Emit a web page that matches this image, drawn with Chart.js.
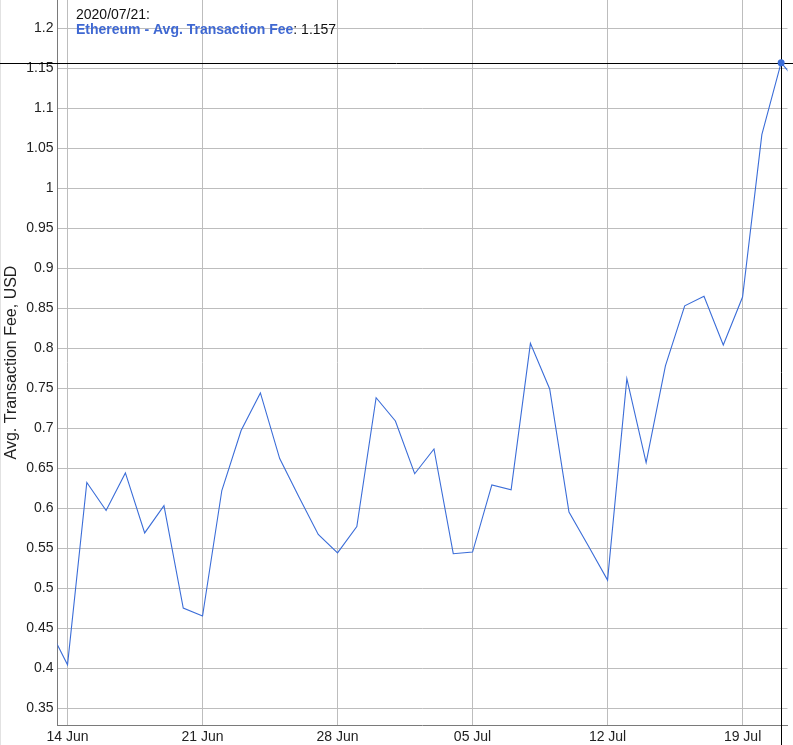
<!DOCTYPE html>
<html>
<head>
<meta charset="utf-8">
<script src="https://cdn.jsdelivr.net/npm/chart.js@4.4.1/dist/chart.umd.min.js"></script>
<style>
  html, body { margin: 0; padding: 0; background: #fff; }
  #wrap { width: 793px; height: 745px; }
</style>
</head>
<body>
<div id="wrap"><canvas id="c" width="793" height="745"></canvas></div>
<script>
// ---- data ----
const dates = [
  '2020-06-13','2020-06-14','2020-06-15','2020-06-16','2020-06-17','2020-06-18','2020-06-19','2020-06-20',
  '2020-06-21','2020-06-22','2020-06-23','2020-06-24','2020-06-25','2020-06-26','2020-06-27','2020-06-28',
  '2020-06-29','2020-06-30','2020-07-01','2020-07-02','2020-07-03','2020-07-04','2020-07-05','2020-07-06',
  '2020-07-07','2020-07-08','2020-07-09','2020-07-10','2020-07-11','2020-07-12','2020-07-13','2020-07-14',
  '2020-07-15','2020-07-16','2020-07-17','2020-07-18','2020-07-19','2020-07-20','2020-07-21','2020-07-22'
];
const fees = [
  0.452, 0.404, 0.632, 0.597, 0.644, 0.569, 0.603, 0.475,
  0.465, 0.622, 0.697, 0.744, 0.662, 0.614, 0.567, 0.544,
  0.577, 0.738, 0.709, 0.643, 0.674, 0.543, 0.545, 0.629,
  0.623, 0.806, 0.749, 0.595, 0.553, 0.510, 0.762, 0.657,
  0.778, 0.853, 0.865, 0.804, 0.864, 1.067, 1.157, 1.128
];
const seriesName = 'Ethereum - Avg. Transaction Fee';
const yAxisTitle = 'Avg. Transaction Fee, USD';
const xTickDates = ['2020-06-14','2020-06-21','2020-06-28','2020-07-05','2020-07-12','2020-07-19'];
const xTickLabels = ['14 Jun','21 Jun','28 Jun','05 Jul','12 Jul','19 Jul'];
const yTickValues = [0.35,0.4,0.45,0.5,0.55,0.6,0.65,0.7,0.75,0.8,0.85,0.9,0.95,1,1.05,1.1,1.15,1.2];
const highlightDate = '2020-07-21';
const highlightLabel = '2020/07/21:';

// ---- helpers ----
const DAY = 86400000;
const baseDate = Date.UTC(2020, 5, 14);
const dayNum = s => { const p = s.split('-').map(Number); return (Date.UTC(p[0], p[1]-1, p[2]) - baseDate) / DAY; };
const points = dates.map((d, i) => ({ x: dayNum(d), y: fees[i] }));
const xTickVals = xTickDates.map(dayNum);
const hiIndex = dates.indexOf(highlightDate);

const LINE = '#3b6dd8';
const TEXTBLUE = '#3f68d2';
Chart.defaults.font.family = '"Liberation Sans", Arial, sans-serif';
Chart.defaults.font.size = 14;
Chart.defaults.color = '#222';

const crosshair = {
  id: 'crosshair',
  beforeDatasetsDraw(chart) {
    const ctx = chart.ctx;
    const xs = chart.scales.x, ys = chart.scales.y;
    const px = Math.round(xs.getPixelForValue(points[hiIndex].x)) + 0.5;
    const py = Math.round(ys.getPixelForValue(points[hiIndex].y)) + 0.5;
    ctx.save();
    ctx.strokeStyle = '#e2e2e2';
    ctx.lineWidth = 1;
    ctx.beginPath();
    ctx.moveTo(0.5, 0); ctx.lineTo(0.5, chart.height);
    ctx.stroke();
    ctx.strokeStyle = '#000';
    ctx.beginPath();
    ctx.moveTo(0, py); ctx.lineTo(chart.width, py);
    ctx.moveTo(px, 0); ctx.lineTo(px, chart.height);
    ctx.stroke();
    ctx.restore();
  },
  afterDraw(chart) {
    const ctx = chart.ctx;
    const x0 = chart.chartArea.left + 18.5;
    ctx.save();
    ctx.textBaseline = 'alphabetic';
    ctx.textAlign = 'left';
    ctx.font = '14px "Liberation Sans", Arial, sans-serif';
    ctx.fillStyle = '#111';
    ctx.fillText(highlightLabel, x0, 18.5);
    ctx.font = 'bold 14px "Liberation Sans", Arial, sans-serif';
    ctx.fillStyle = TEXTBLUE;
    ctx.fillText(seriesName, x0, 34);
    const w = ctx.measureText(seriesName).width;
    ctx.font = '14px "Liberation Sans", Arial, sans-serif';
    ctx.fillStyle = '#111';
    ctx.fillText(': ' + fees[hiIndex].toFixed(3), x0 + w, 34);
    ctx.restore();
  }
};

new Chart(document.getElementById('c'), {
  type: 'line',
  data: {
    datasets: [{
      label: seriesName,
      data: points,
      borderColor: LINE,
      backgroundColor: LINE,
      borderWidth: 1.1,
      tension: 0,
      pointRadius: c => c.dataIndex === hiIndex ? 3.5 : 0,
      pointHoverRadius: 0,
      pointBorderWidth: 0,
      fill: false
    }]
  },
  options: {
    responsive: false,
    animation: false,
    events: [],
    layout: { padding: { left: 0, right: 5.5, top: 0, bottom: 0 } },
    plugins: { legend: { display: false }, tooltip: { enabled: false } },
    scales: {
      x: {
        type: 'linear',
        min: -0.52,
        max: 37.33,
        afterBuildTicks: s => { s.ticks = xTickVals.map(v => ({ value: v })); },
        afterFit: s => { s.height = 20; s.paddingLeft = 0; s.paddingRight = 0; },
        ticks: {
          autoSkip: false,
          maxRotation: 0,
          padding: 4,
          color: '#222',
          font: { size: 14 },
          callback: (v) => { const i = xTickVals.indexOf(v); return i >= 0 ? xTickLabels[i] : ''; }
        },
        grid: { color: '#bdbdbd', lineWidth: 1, drawTicks: false },
        border: { color: '#7a7a7a', width: 1 }
      },
      y: {
        type: 'linear',
        min: 0.3288,
        max: 1.2354,
        afterBuildTicks: s => { s.ticks = yTickValues.map(v => ({ value: v })); },
        afterFit: s => { s.width = 57.5; s.paddingTop = 0; s.paddingBottom = 0; },
        ticks: {
          autoSkip: false,
          padding: 4,
          color: '#222',
          font: { size: 14 },
          callback: v => String(+(+v).toFixed(2))
        },
        grid: { color: '#bdbdbd', lineWidth: 1, drawTicks: false },
        border: { color: '#7a7a7a', width: 1 },
        title: {
          display: true,
          text: yAxisTitle,
          color: '#222',
          font: { size: 16 },
          padding: { top: 2, bottom: 0 }
        }
      }
    }
  },
  plugins: [crosshair]
});
</script>
</body>
</html>
